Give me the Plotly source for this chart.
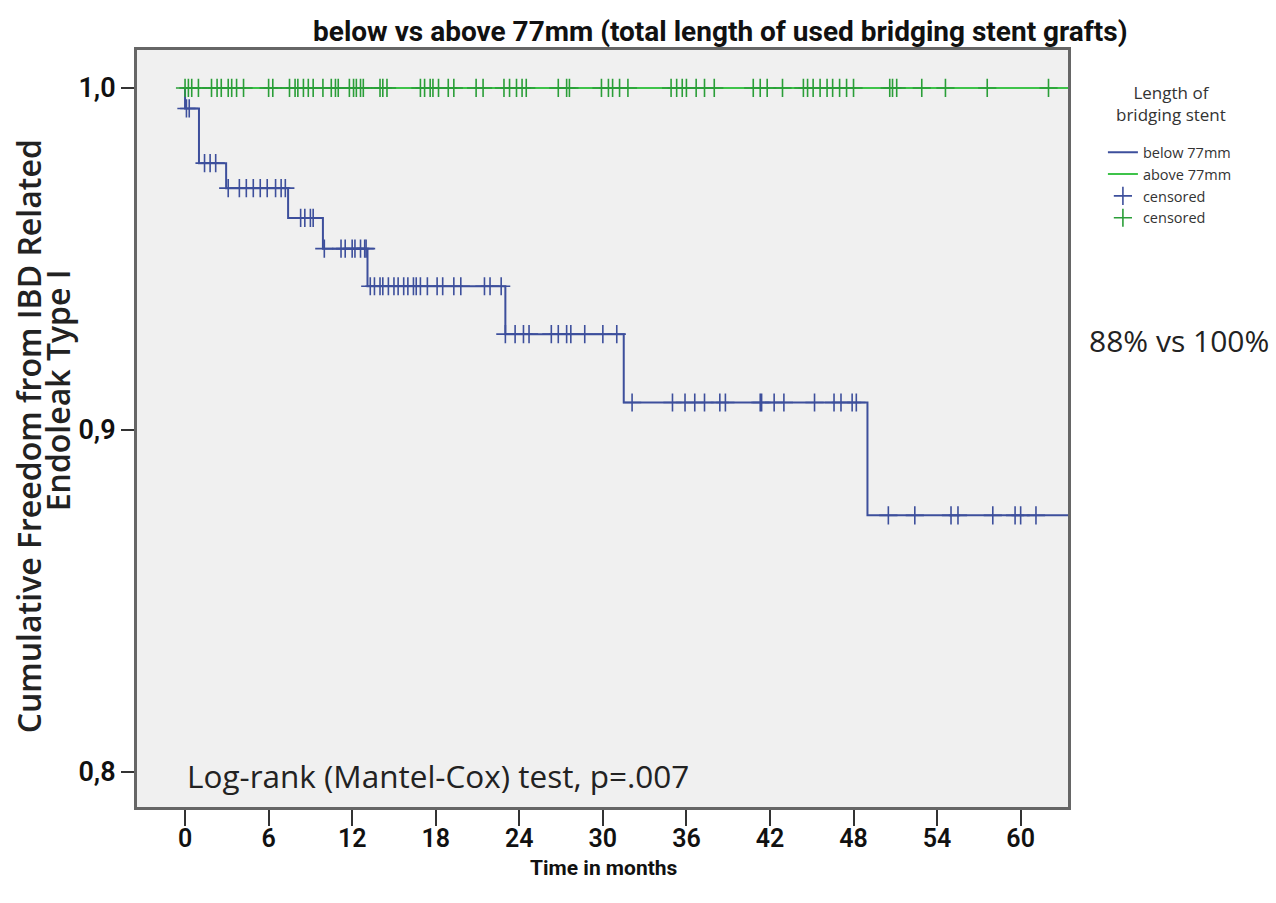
import plotly.graph_objects as go

# ---- data ----
below_time = [0, 0, 1.0, 2.95, 7.4, 9.9, 13.1, 23.0, 31.5, 49.0, 64.0]
below_surv = [1.0, 0.994, 0.978, 0.9707, 0.962, 0.953, 0.942, 0.928, 0.908, 0.875, 0.875]

above_time = [0, 64.0]
above_surv = [1.0, 1.0]

below_cens_time = [0.1, 0.3,
                   1.4, 1.8, 2.2,
                   3.1, 3.9, 4.4, 4.9, 5.4, 5.9, 6.5, 6.9, 7.2,
                   8.3, 8.6, 9.0, 9.2,
                   10.0, 11.2, 11.5, 12.0, 12.2, 12.6, 12.9, 13.0,
                   13.3, 13.6, 14.0, 14.2, 14.6, 15.0, 15.3, 15.7, 16.0, 16.4, 16.6, 16.9,
                   17.4, 18.1, 18.5, 19.3, 19.8, 21.5, 21.9, 22.7,
                   23.0, 23.7, 24.3, 24.7, 26.3, 26.8, 27.4, 27.7, 28.7, 30.0, 31.0,
                   32.1, 35.0, 35.9, 36.6, 37.3, 38.4, 38.8, 41.3, 41.4, 42.3, 43.0,
                   45.2, 46.6, 47.1, 47.9, 48.2,
                   50.5, 52.4, 55.0, 55.5, 58.0, 59.6, 60.0, 61.1]
below_cens_surv = ([0.994] * 2 + [0.978] * 3 + [0.9707] * 9 + [0.962] * 4 + [0.953] * 8
                   + [0.942] * 20 + [0.928] * 11 + [0.908] * 16 + [0.875] * 8)

above_cens_time = [0, 0.24, 0.48, 0.96, 1.9, 2.3, 2.6, 3.1, 3.35, 3.7, 4.2, 6.0, 6.3,
                   7.5, 7.9, 8.1, 8.5, 8.85, 9.2, 9.9, 10.5, 10.8, 11.0, 11.8, 12.1,
                   12.3, 12.6, 12.8, 14.0, 14.2, 14.5, 16.9, 17.2, 17.6, 17.8, 18.2,
                   18.9, 19.3, 20.9, 21.4, 22.9, 23.3, 23.8, 24.2, 24.5, 26.8, 27.4,
                   27.6, 29.9, 30.4, 30.7, 31.2, 31.8, 34.9, 35.3, 35.7, 36.0, 36.7,
                   37.3, 38.0, 40.8, 41.3, 41.8, 42.9, 44.4, 44.7, 45.1, 45.6, 46.1,
                   46.5, 47.0, 47.5, 48.0, 50.6, 50.8, 51.1, 52.9, 54.6, 57.6, 62.0]
above_cens_surv = [1.0] * len(above_cens_time)

x_tickvals = [0, 6, 12, 18, 24, 30, 36, 42, 48, 54, 60]
y_tickvals = [0.8, 0.9, 1.0]
y_ticktext = ["0,8", "0,9", "1,0"]

BLUE = "#3d4f9c"
GREEN = "#3ec34a"
GREEN_DARK = "#2a9e38"
NARROW = "Roboto, Arial, sans-serif"
REG = "Open Sans, Roboto, sans-serif"

fig = go.Figure()
fig.add_trace(go.Scatter(x=below_time, y=below_surv, mode="lines", line_shape="hv",
                         line=dict(color=BLUE, width=2), name="below 77mm"))
fig.add_trace(go.Scatter(x=above_time, y=above_surv, mode="lines", line_shape="hv",
                         line=dict(color=GREEN, width=2), name="above 77mm"))
fig.add_trace(go.Scatter(x=below_cens_time, y=below_cens_surv, mode="markers",
                         marker=dict(symbol="cross-thin", size=13,
                                     line=dict(color=BLUE, width=1.6)),
                         name="censored"))
fig.add_trace(go.Scatter(x=above_cens_time, y=above_cens_surv, mode="markers",
                         marker=dict(symbol="cross-thin", size=13,
                                     line=dict(color=GREEN_DARK, width=1.6)),
                         name="censored"))

fig.update_layout(
    width=1276, height=903,
    margin=dict(l=137, r=208, t=50, b=96),
    paper_bgcolor="white",
    plot_bgcolor="#f0f0f0",
    showlegend=True,
    legend=dict(x=1.0375, y=0.886, xanchor="left", yanchor="top",
                font=dict(family=REG, size=14.5, color="#333"),
                itemwidth=30, tracegroupgap=0, bgcolor="rgba(0,0,0,0)"),
    title=dict(text="below vs above 77mm (total length of used bridging stent grafts)",
               x=0.5645, xanchor="center", y=0.965, yanchor="middle",
               font=dict(family=NARROW, size=28, color="#111", weight="bold")),
    xaxis=dict(range=[-3.45, 63.4], tickvals=x_tickvals, showgrid=False, zeroline=False,
               ticks="outside", ticklen=16, tickwidth=2, tickcolor="#333",
               ticklabelstandoff=-9,
               showline=True, mirror=True, linecolor="#666", linewidth=3,
               tickfont=dict(family=NARROW, size=25, color="#111", weight=600)),
    yaxis=dict(range=[0.7897, 1.0111], tickvals=y_tickvals, ticktext=y_ticktext,
               showgrid=False, zeroline=False,
               ticks="outside", ticklen=13, tickwidth=2, tickcolor="#333",
               showline=True, mirror=True, linecolor="#666", linewidth=3,
               tickfont=dict(family=NARROW, size=27, color="#111", weight=600)),
)

fig.add_annotation(text="Time in months", xref="paper", yref="paper",
                   x=0.5016, y=-0.081, xanchor="center", yanchor="middle", showarrow=False,
                   font=dict(family=NARROW, size=21, color="#111", weight="bold"))
fig.add_annotation(text="Cumulative Freedom from IBD Related",
                   xref="paper", yref="paper", x=-0.1165, y=0.489, textangle=-90,
                   xanchor="center", yanchor="middle",
                   showarrow=False, font=dict(family=REG, size=32, color="#222", weight=600))
fig.add_annotation(text="Endoleak Type I",
                   xref="paper", yref="paper", x=-0.0855, y=0.551, textangle=-90,
                   xanchor="center", yanchor="middle",
                   showarrow=False, font=dict(family=REG, size=32, color="#222", weight=600))
fig.add_annotation(text="88% vs 100%", xref="paper", yref="paper",
                   x=1.119, y=0.6156, xanchor="center", yanchor="middle", showarrow=False,
                   font=dict(family=REG, size=30, color="#222"))
fig.add_annotation(text="Log-rank (Mantel-Cox) test, p=.007", xref="x", yref="paper",
                   x=0, y=0.042, xanchor="left", yanchor="middle", showarrow=False,
                   font=dict(family=REG, size=31.5, color="#222"))
fig.add_annotation(text="Length of<br>bridging stent", xref="paper", yref="paper",
                   x=1.1107, y=0.929, xanchor="center", yanchor="middle", showarrow=False,
                   font=dict(family=REG, size=17, color="#333"))

fig.write_html("out.html")
